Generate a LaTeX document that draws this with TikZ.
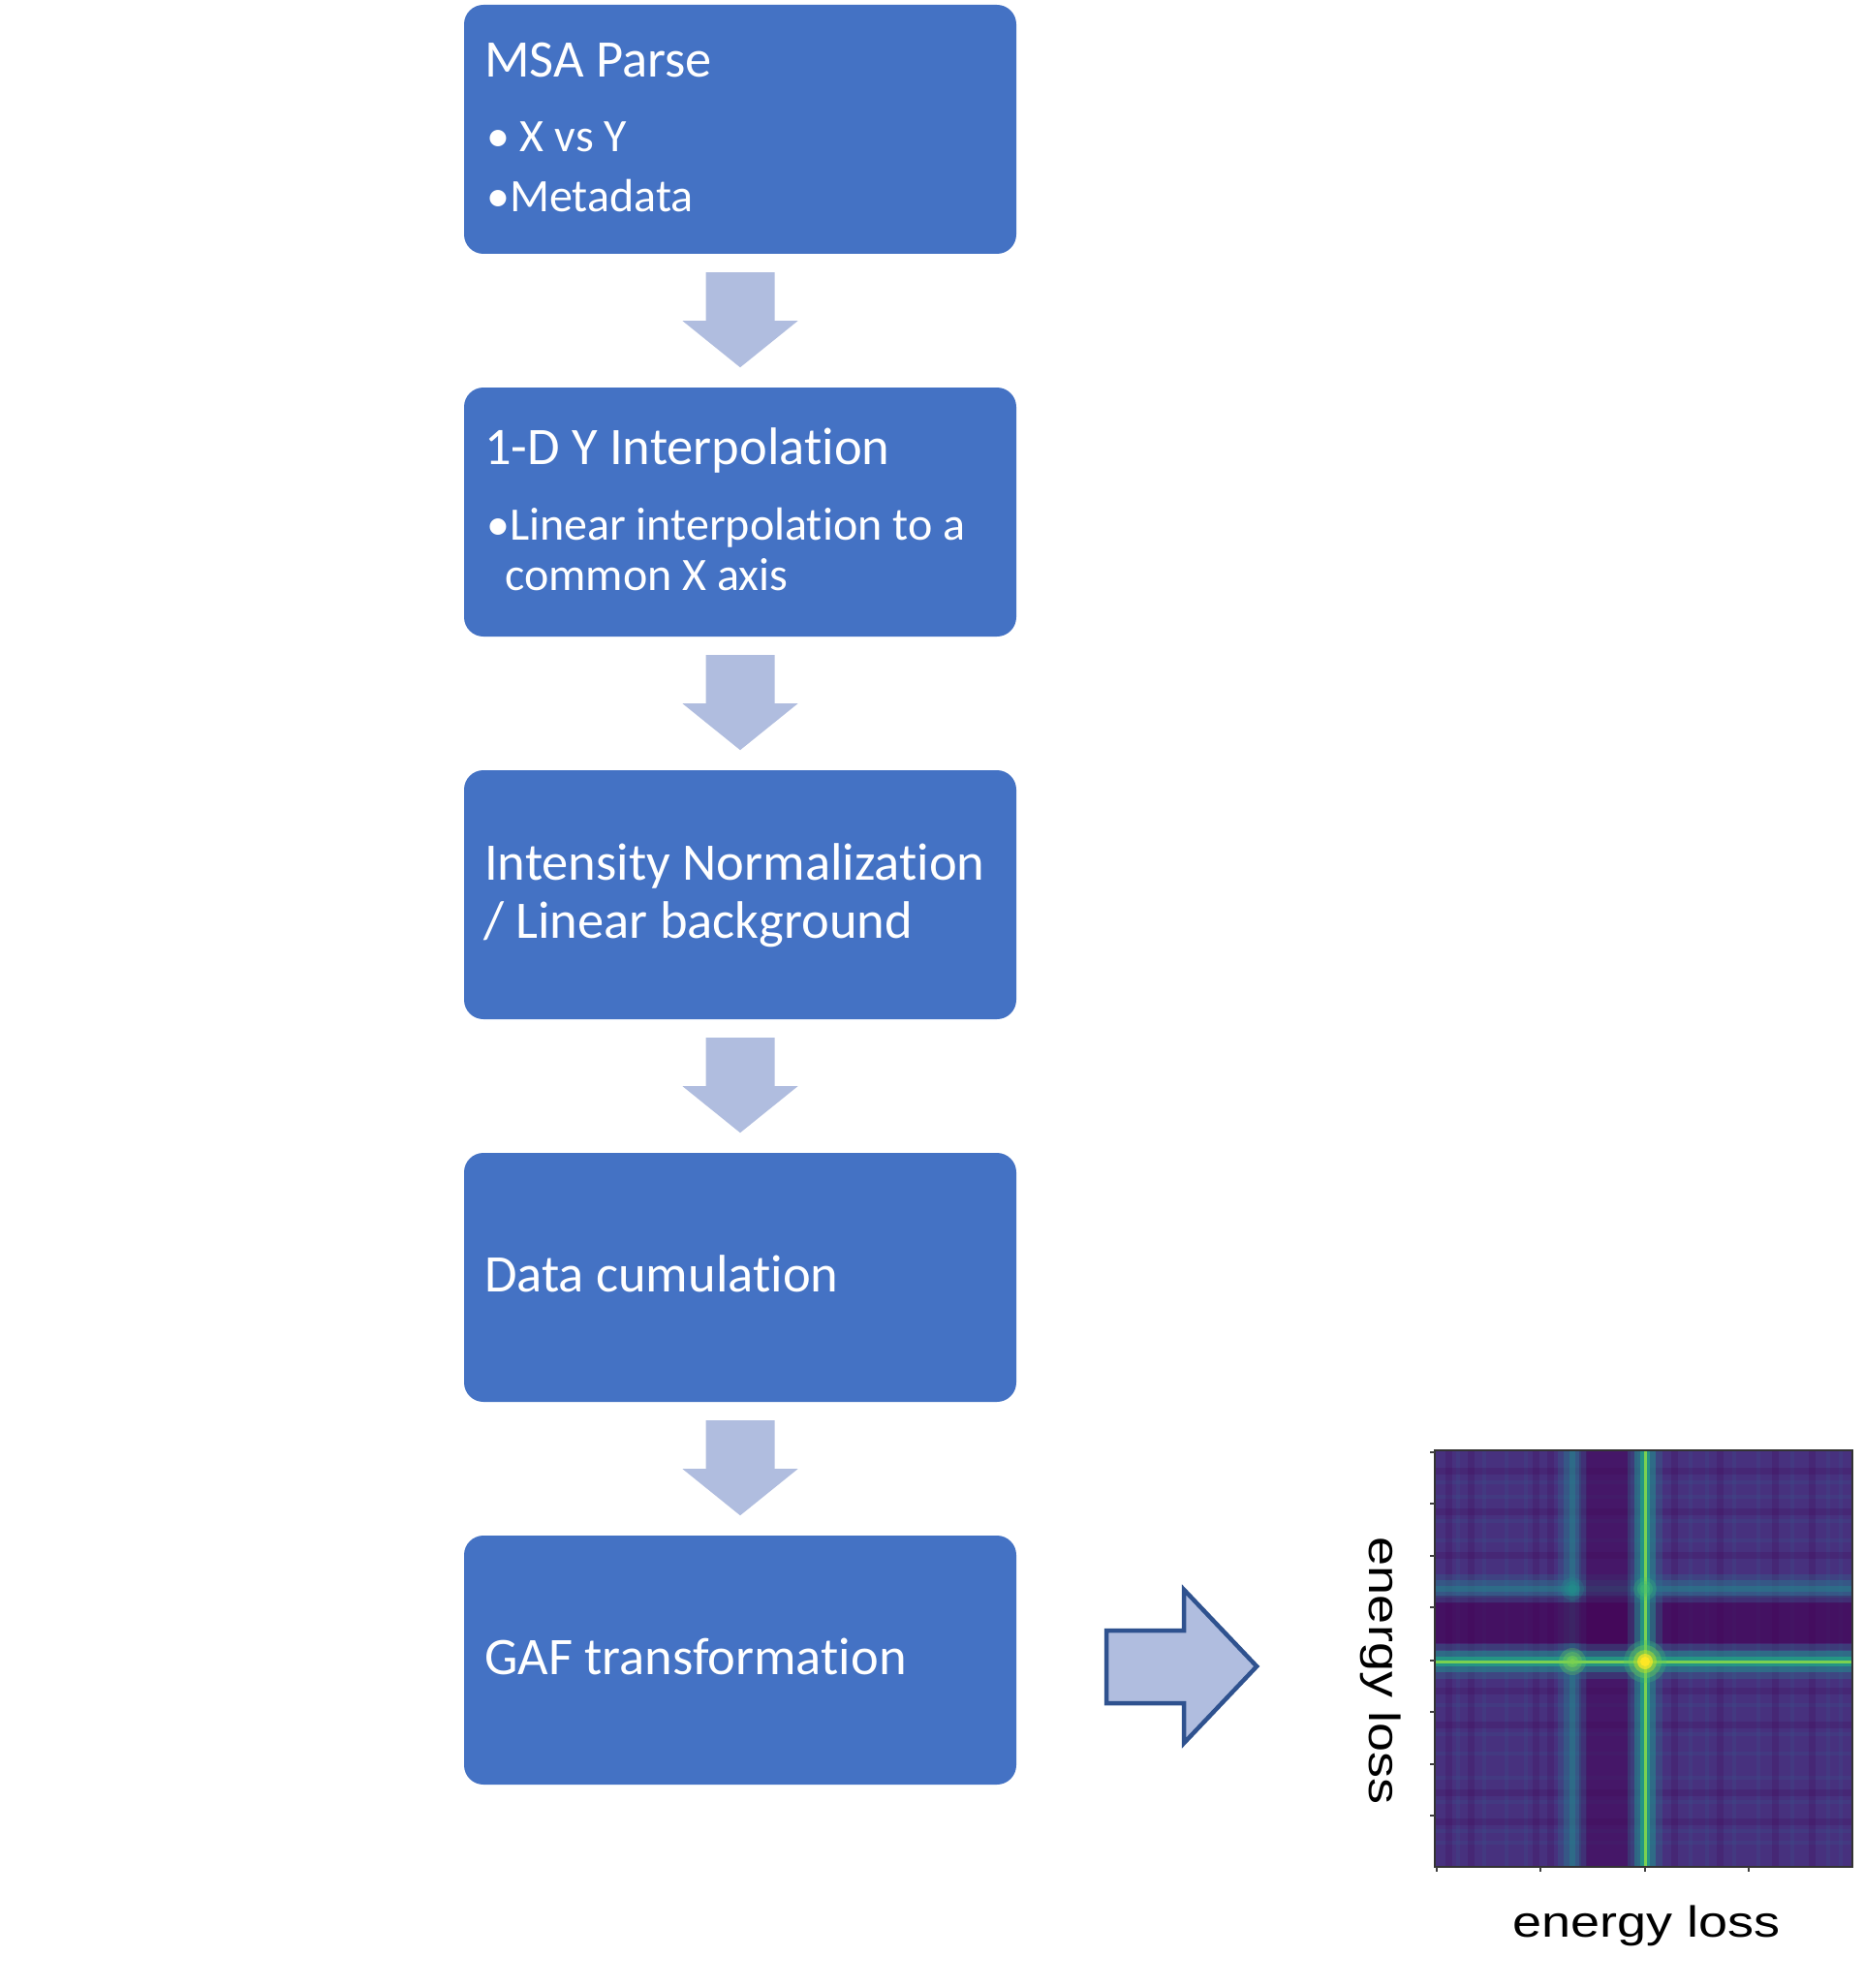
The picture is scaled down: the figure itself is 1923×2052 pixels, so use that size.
\documentclass[tikz,border=0pt]{standalone}
\usepackage{fontspec}
\setmainfont{Carlito}[Ligatures=NoCommon]
\newfontfamily\arialf{Liberation Sans}
\definecolor{boxblue}{HTML}{4472C4}
\definecolor{arrowfill}{HTML}{B0BDDF}
\definecolor{arrowline}{HTML}{2F528F}
\definecolor{vA}{HTML}{440154}
\definecolor{vB}{HTML}{47317E}
\definecolor{vC}{HTML}{3B528B}
\definecolor{vD}{HTML}{2A788E}
\definecolor{vE}{HTML}{21918C}
\definecolor{vF}{HTML}{22A884}
\definecolor{vG}{HTML}{44BF70}
\definecolor{vH}{HTML}{7AD151}
\definecolor{vI}{HTML}{BDDF26}
\definecolor{vJ}{HTML}{FDE725}
\tikzset{
  stagebox/.style={fill=boxblue, draw=none, rounded corners=20pt, minimum width=570pt, minimum height=257pt, inner sep=0pt},
  titletext/.style={anchor=base west, inner sep=0pt, text=white, font=\fontsize{54.5}{60}\selectfont},
  bullettext/.style={anchor=base west, inner sep=0pt, text=white, font=\fontsize{48}{52}\selectfont},
  downarrow/.style={fill=arrowfill, draw=none},
  rightarrow/.style={fill=arrowfill, draw=arrowline, line width=4.5pt, line join=miter},
  axislabel/.style={inner sep=0pt, anchor=base, font=\arialf\fontsize{45}{50}\selectfont},
  tickline/.style={draw=black!75, line width=1.3pt},
}
\begin{document}
\begin{tikzpicture}[x=1pt,y=-1pt]
\path[fill=white] (0,0) rectangle (1923,2052);
\useasboundingbox (0,0) rectangle (1923,2052);

% stage boxes
\node[stagebox] (b1) at (764,133.5) {};
\node[stagebox] (b2) at (764,528.5) {};
\node[stagebox] (b3) at (764,923.5) {};
\node[stagebox] (b4) at (764,1318.5) {};
\node[stagebox] (b5) at (764,1713.5) {};

% texts
\node[titletext] (t1) at (500,80) {MSA Parse};
\node[bullettext] (t1a) at (502,157) {• X vs Y};
\node[bullettext] (t1b) at (502,219) {•Metadata};
\node[titletext] (t2) at (500,479) {1-D Y Interpolation};
\node[bullettext] (t2a) at (502,557) {•Linear interpolation to a};
\node[bullettext] (t2b) at (521,609) {common X axis};
\node[titletext] (t3) at (500,908) {Intensity Normalization};
\node[titletext] (t3b) at (499,968) {/ Linear background};
\node[titletext] (t4) at (500,1333) {Data cumulation};
\node[titletext] (t5) at (500,1728) {GAF transformation};

% down arrows between boxes
\foreach \s in {b1,b2,b3,b4}{
  \fill[downarrow, shift={(\s.south)}] (-35.5,19) -- (35.5,19) -- (35.5,69) -- (59.5,69) -- (0,117) -- (-59.5,69) -- (-35.5,69) -- cycle;
}

% right arrow
\draw[rightarrow, shift={(b5.east)}] (93,-30.5) -- (173,-30.5) -- (173,-72.5) -- (248,6.5) -- (173,85.5) -- (173,44.5) -- (93,44.5) -- cycle;

% heatmap
\node[minimum width=431pt, minimum height=430pt, inner sep=0pt] (hm) at (1696.5,1712) {};
\begin{scope}
\clip (1481,1497) rectangle (1912,1927);
\fill[vB] (1481,1497) rectangle (1912,1927);
% faint stripes
\foreach \xx in {1505,1532,1555,1575,1745,1762,1790,1815,1850,1887,1900}{
  \draw[vC, opacity=0.25, line width=4pt] (\xx,1497) -- (\xx,1927);
}
\foreach \yy in {1530,1545,1570,1590,1760,1790,1810,1835,1860,1890,1902}{
  \draw[vC, opacity=0.25, line width=4pt] (1481,\yy) -- (1912,\yy);
}
\foreach \xx in {1495,1518,1585,1600,1728,1775,1832,1870}{
  \draw[vA, opacity=0.2, line width=7pt] (\xx,1497) -- (\xx,1927);
}
\foreach \yy in {1518,1560,1605,1745,1780,1850,1880}{
  \draw[vA, opacity=0.2, line width=7pt] (1481,\yy) -- (1912,\yy);
}
% secondary lines
\foreach \w/\o/\c in {30/0.25/vD,18/0.4/vD,6/0.35/vE}{
  \draw[\c, opacity=\o, line width=\w pt] (1481,1640) -- (1912,1640);
  \draw[\c, opacity=\o, line width=\w pt] (1623,1497) -- (1623,1927);
}
% dark bands
\draw[vA, opacity=0.3, line width=56pt] (1481,1674.5) -- (1912,1674.5);
\draw[vA, opacity=0.5, line width=42pt] (1481,1674.5) -- (1912,1674.5);
\draw[vA, opacity=0.25, line width=60pt] (1660,1497) -- (1660,1927);
\draw[vA, opacity=0.35, line width=46pt] (1660,1497) -- (1660,1927);
% main lines
\foreach \w/\o/\c in {36/0.3/vD,22/0.5/vE,10/0.7/vF,3/1/vH}{
  \draw[\c, opacity=\o, line width=\w pt] (1481,1715) -- (1912,1715);
  \draw[\c, opacity=\o, line width=\w pt] (1698,1497) -- (1698,1927);
}
% crossings (soft blobs)
\foreach \r/\o in {12/0.2,8/0.3,5/0.4}{
  \fill[vE, opacity=\o] (1623,1640) circle (\r);
  \fill[vG, opacity=\o] (1698,1640) circle (\r);
}
\foreach \r/\o in {14/0.25,10/0.35,6/0.5,3/0.8}{
  \fill[vH, opacity=\o] (1623,1715) circle (\r);
}
\foreach \r/\o/\c in {22/0.25/vG,17/0.35/vH,12/0.5/vI,8/0.7/vJ,5/1/vJ}{
  \fill[\c, opacity=\o] (1698,1715) circle (\r);
}
\end{scope}
\draw[black!80, line width=1.5pt] (hm.north west) rectangle (hm.south east);
% ticks
\foreach \yy in {1499,1552,1606,1659,1714,1767,1821,1874}{
  \draw[tickline] (1481,\yy) -- (1476,\yy);
}
\foreach \xx in {1483,1590,1698,1805}{
  \draw[tickline] (\xx,1927) -- (\xx,1932);
}
% axis labels
\node[axislabel, xscale=1.2] (xl) at (1699.5,1999) {energy loss};
\node[axislabel, rotate=-90, xscale=1.2] (yl) at (1413,1725) {energy loss};
\end{tikzpicture}
\end{document}
